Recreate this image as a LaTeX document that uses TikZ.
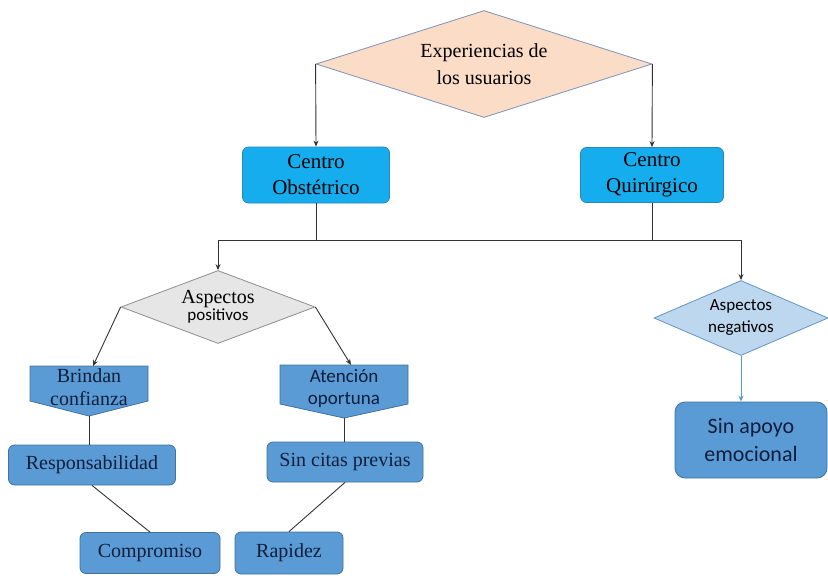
\documentclass[tikz,border=0pt]{standalone}
\usepackage{fontspec}
\setmainfont{Liberation Serif}
\newfontfamily\calibri{Carlito}
\usetikzlibrary{shapes.geometric,arrows.meta}

\definecolor{peach}{HTML}{FBDCC6}
\definecolor{peachline}{HTML}{7A93B8}
\definecolor{cyanbox}{HTML}{16ADEE}
\definecolor{cyanline}{HTML}{2B86B8}
\definecolor{midblue}{HTML}{5B9BD5}
\definecolor{midline}{HTML}{41719C}
\definecolor{lightgray}{HTML}{E6E6E6}
\definecolor{grayline}{HTML}{8E8E8E}
\definecolor{lightblue}{HTML}{BDD7EE}
\definecolor{navy}{HTML}{0F1E3A}
\definecolor{wire}{HTML}{333333}

\begin{document}
\begin{tikzpicture}[x=1pt,y=-1pt,
    decision/.style={diamond, draw=#1, line width=0.8pt, inner sep=0pt, align=center},
    centrebox/.style={rectangle, rounded corners=6pt, fill=cyanbox, draw=cyanline, line width=0.8pt,
      align=center, inner sep=0pt, font=\fontsize{21}{26}\selectfont},
    itembox/.style={rectangle, rounded corners=6pt, fill=midblue, draw=midline, line width=0.8pt,
      align=center, inner sep=0pt, text=navy, font=\fontsize{20}{26}\selectfont},
    pointbox/.style={fill=midblue, draw=midline, line width=0.8pt},
    pointtext/.style={align=center, inner sep=0pt, text=navy},
    link/.style={draw=wire, line width=0.9pt},
    arrowlink/.style={link, -{Stealth[length=6pt,width=5pt]}}
  ]

  \useasboundingbox (0,0) rectangle (828,576);

  % top level
  \node[decision=peachline, fill=peach, aspect=3.14, minimum width=336pt, minimum height=107pt,
    font=\fontsize{20}{27}\selectfont] (exp) at (484,64) {Experiencias de\\los usuarios};

  \node[centrebox, minimum width=147pt, minimum height=56pt] (obs) at (316,175) {Centro\\Obstétrico};
  \node[centrebox, minimum width=143pt, minimum height=55pt] (qui) at (652,175) {Centro\\Quirúrgico};

  \coordinate (busL) at (218,240);
  \coordinate (busR) at (741,240);

  % aspects
  \node[decision=grayline, fill=lightgray, aspect=2.66, minimum width=194pt, minimum height=73pt] (pos) at (218,307)
    {\fontsize{20}{22}\selectfont Aspectos\\\calibri\fontsize{17}{22}\selectfont positivos};
  \node[decision=midblue!80!gray, fill=lightblue, aspect=2.32, minimum width=174pt, minimum height=75pt,
    font=\calibri\fontsize{17}{22}\selectfont] (neg) at (741,318) {Aspectos\\negativos};

  % positive branch, pointed boxes
  \path[pointbox] (30,366) -- (148,366) -- (148,401) -- (89,416) -- (30,401) -- cycle;
  \node[pointtext, font=\fontsize{20}{23}\selectfont] (bri) at (89,387) {Brindan\\confianza};
  \coordinate (bri-top) at (93,366);
  \coordinate (bri-tip) at (89,416);

  \path[pointbox] (280,365) -- (408,365) -- (408,404) -- (344,418) -- (280,404) -- cycle;
  \node[pointtext, font=\calibri\fontsize{19}{22}\selectfont] (ate) at (344,388) {Atención\\oportuna};
  \coordinate (ate-top) at (351,365);
  \coordinate (ate-tip) at (344,418);

  \node[itembox, minimum width=167pt, minimum height=40pt] (res) at (92,465) {Responsabilidad};
  \node[itembox, minimum width=140pt, minimum height=41pt] (com) at (150,553) {Compromiso};
  \node[itembox, minimum width=156pt, minimum height=40pt] (cit) at (345,462) {Sin citas previas};
  \node[itembox, minimum width=108pt, minimum height=42pt] (rap) at (289,553) {Rapidez};

  % negative branch
  \node[itembox, rounded corners=10pt, minimum width=152pt, minimum height=76pt,
    font=\calibri\fontsize{22}{28}\selectfont] (apo) at (751,440) {Sin apoyo\\emocional};

  % connectors
  \draw[arrowlink] (exp.west) -- (obs.north);
  \draw[arrowlink] (exp.east) -- (qui.north);
  \draw[link] (obs.south) -- (obs.south |- busL);
  \draw[link] (qui.south) -- (qui.south |- busL);
  \draw[link] (busL) -- (busR);
  \draw[arrowlink] (busL) -- (pos.north);
  \draw[arrowlink] (busR) -- (neg.north);

  \draw[arrowlink] (pos.west) -- (bri-top);
  \draw[arrowlink] (pos.east) -- (ate-top);
  \draw[link] (bri-tip) -- (bri-tip |- res.north);
  \draw[link] (res.south) -- (com.north);
  \draw[link] (ate-tip) -- (ate-tip |- cit.north);
  \draw[link] (cit.south) -- (rap.north);

  \draw[line width=0.9pt, draw=midblue, -{Stealth[length=6pt,width=5pt]}] (neg.south) -- (neg.south |- apo.north);

\end{tikzpicture}
\end{document}
